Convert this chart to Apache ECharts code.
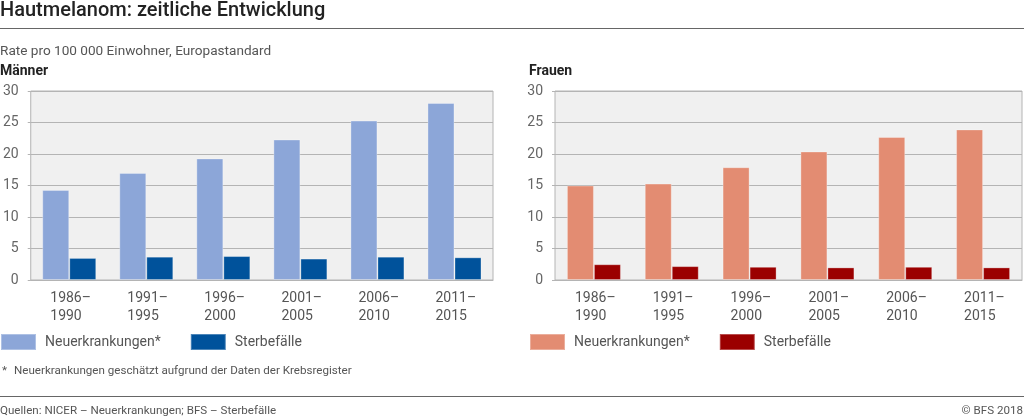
<!DOCTYPE html>
<html>
<head>
<meta charset="utf-8">
<script src="https://cdn.jsdelivr.net/npm/echarts@6/dist/echarts.min.js"></script>
<style>html,body{margin:0;padding:0;background:#fff}#c{width:1024px;height:420px}</style>
</head>
<body>
<div id="c"></div>
<script>
const categories = ['1986–\n1990','1991–\n1995','1996–\n2000','2001–\n2005','2006–\n2010','2011–\n2015'];
const menNew = [14.3, 17.0, 19.3, 22.3, 25.3, 28.1];
const menDeath = [3.5, 3.7, 3.8, 3.4, 3.7, 3.6];
const womenNew = [15.0, 15.3, 17.9, 20.4, 22.7, 23.9];
const womenDeath = [2.5, 2.2, 2.1, 2.0, 2.1, 2.0];
const yTicks = [0, 5, 10, 15, 20, 25, 30];

const FONT = 'Roboto, "Noto Sans", sans-serif';
const C = {menNew:'#8ca6d8', menDeath:'#00529b', womenNew:'#e38c72', womenDeath:'#9b0000'};

const chart = echarts.init(document.getElementById('c'), null, {renderer:'canvas'});

function yAxis(idx){
  return {
    type:'value', gridIndex:idx, min:yTicks[0], max:yTicks[yTicks.length-1], interval:5,
    axisLine:{show:false},
    axisTick:{show:true, length:3, lineStyle:{color:'#b4b4b4'}},
    axisLabel:{color:'#666', fontSize:14, fontFamily:FONT, margin:12},
    splitLine:{lineStyle:{color:'#b4b4b4', width:1}}
  };
}
function xAxis(idx){
  return {
    type:'category', gridIndex:idx, data:categories,
    axisLine:{lineStyle:{color:'#b4b4b4'}},
    axisTick:{show:false},
    axisLabel:{
      color:'#555', fontSize:14, fontFamily:FONT, lineHeight:18, margin:9, interval:0,
      formatter: v => v.split('\n').map(s => '{a|' + s + '}').join('\n'),
      rich:{a:{width:38, align:'left', color:'#555', fontSize:14, fontFamily:FONT, lineHeight:18}}
    }
  };
}
function bar(name, data, idx, color){
  return {
    name, type:'bar', xAxisIndex:idx, yAxisIndex:idx, data,
    barWidth:27, barGap:'0%', silent:true,
    itemStyle:{color, borderColor:'rgba(255,255,255,0.3)', borderWidth:1}
  };
}
const legendText = {color:'#555', fontSize:14, fontFamily:FONT, padding:[0,0,0,4]};

chart.setOption({
  animation:false,
  textStyle:{fontFamily:FONT},
  grid:[
    {left:27, right:531, top:91, bottom:140, show:true, backgroundColor:'#f0f0f0', borderColor:'#b4b4b4', borderWidth:1},
    {left:555, right:2, top:91, bottom:140, show:true, backgroundColor:'#f0f0f0', borderColor:'#b4b4b4', borderWidth:1}
  ],
  xAxis:[xAxis(0), xAxis(1)],
  yAxis:[yAxis(0), yAxis(1)],
  legend:[
    {left:0, top:333, padding:0, itemWidth:35, itemHeight:16, itemGap:29, icon:'rect', selectedMode:false,
     textStyle:legendText,
     data:[{name:'Neuerkrankungen*', itemStyle:{color:C.menNew}}, {name:'Sterbefälle', itemStyle:{color:C.menDeath}}]},
    {left:529, top:333, padding:0, itemWidth:35, itemHeight:16, itemGap:29, icon:'rect', selectedMode:false,
     textStyle:legendText,
     data:[{name:'Neuerkrankungen*', itemStyle:{color:C.womenNew}}, {name:'Sterbefälle', itemStyle:{color:C.womenDeath}}]}
  ],
  series:[
    bar('Neuerkrankungen*', menNew, 0, C.menNew),
    bar('Sterbefälle', menDeath, 0, C.menDeath),
    bar('Neuerkrankungen*', womenNew, 1, C.womenNew),
    bar('Sterbefälle', womenDeath, 1, C.womenDeath)
  ],
  graphic:[
    {type:'text', left:0, top:1, style:{text:'Hautmelanom: zeitliche Entwicklung', fill:'#222', fontSize:20, fontWeight:500, fontFamily:FONT}},
    {type:'line', shape:{x1:0, y1:28.5, x2:1024, y2:28.5}, style:{stroke:'#666', lineWidth:1.2}},
    {type:'text', left:0, top:45, style:{text:'Rate pro 100 000 Einwohner, Europastandard', fill:'#555', fontSize:13.6, fontFamily:FONT}},
    {type:'text', left:0, top:64, style:{text:'Männer', fill:'#222', fontSize:14, fontWeight:'bold', fontFamily:FONT}},
    {type:'text', left:529, top:64, style:{text:'Frauen', fill:'#222', fontSize:14, fontWeight:'bold', fontFamily:FONT}},
    {type:'text', left:2, top:365, style:{text:'*', fill:'#555', fontSize:11.6, fontFamily:FONT}},
    {type:'text', left:14, top:365, style:{text:'Neuerkrankungen geschätzt aufgrund der Daten der Krebsregister', fill:'#555', fontSize:11.6, fontFamily:FONT}},
    {type:'line', shape:{x1:0, y1:396.5, x2:1024, y2:396.5}, style:{stroke:'#666', lineWidth:1.2}},
    {type:'text', left:0, top:405, style:{text:'Quellen: NICER – Neuerkrankungen; BFS – Sterbefälle', fill:'#555', fontSize:11.6, fontFamily:FONT}},
    {type:'text', right:1, top:405, style:{text:'© BFS 2018', fill:'#555', fontSize:11.6, fontFamily:FONT}}
  ]
});
</script>
</body>
</html>
